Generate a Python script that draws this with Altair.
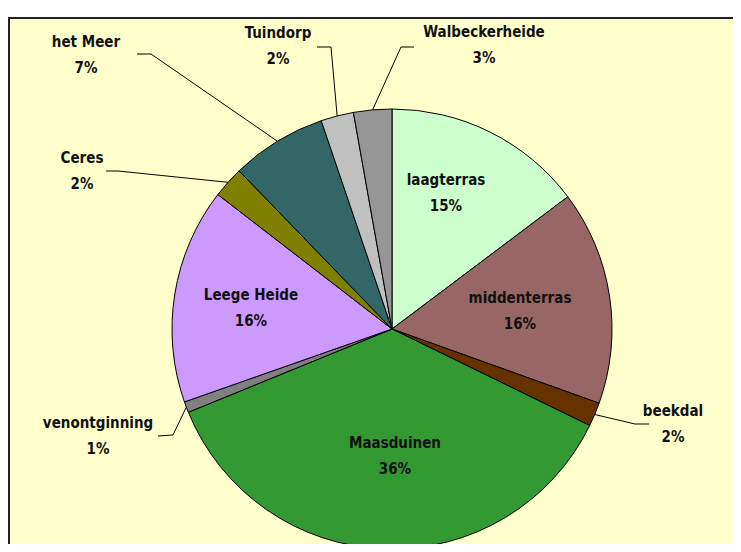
import math
import altair as alt
import pandas as pd

# ---- data ----
categories = ["laagterras", "middenterras", "beekdal", "Maasduinen", "venontginning",
              "Leege Heide", "Ceres", "het Meer", "Tuindorp", "Walbeckerheide"]
shares = [14.7, 15.7, 1.75, 36.5, 0.8, 15.8, 2.3, 7.0, 2.4, 2.8]
pct_labels = ["15%", "16%", "2%", "36%", "1%", "16%", "2%", "7%", "2%", "3%"]
colors = ["#CCFFCC", "#996666", "#663300", "#339933", "#808080",
          "#CC99FF", "#808000", "#336666", "#C0C0C0", "#969696"]

# ---- layout (pixels, chart coordinates) ----
W, H = 725, 536
CX, CY, R = 384, 321, 220
LINE_GAP = 26
# label anchor offsets relative to the pie centre (manual placement as in the original)
label_dx = [54, 128, 281, 3, -294, -141, -310, -306, -114, 92]
label_dy = [-149, -31, 82, 114, 94, -34, -171, -287, -296, -297]
# leader lines: (category, elbow dx, elbow dy, end dx, end dy)
leaders = [
    ("beekdal", 243, 95, 257, 95),
    ("venontginning", -219, 106, -234, 107),
    ("Ceres", -274, -158, -286, -158),
    ("het Meer", -241, -275, -255, -275),
    ("Tuindorp", -61, -282, -75, -282),
    ("Walbeckerheide", 9, -282, 22, -282),
]

df = pd.DataFrame({"cat": categories, "value": shares, "order": range(len(categories)),
                   "pct": pct_labels})

total = sum(shares)
cum = 0.0
mid = {}
for c, v in zip(categories, shares):
    mid[c] = (cum + v / 2) / total * 2 * math.pi
    cum += v

rows = []
for c, ex, ey, tx, ty in leaders:
    a = mid[c]
    rows.append({"cat": c, "seq": 0, "x": CX + R * math.sin(a), "y": CY - R * math.cos(a)})
    rows.append({"cat": c, "seq": 1, "x": CX + ex, "y": CY + ey})
    rows.append({"cat": c, "seq": 2, "x": CX + tx, "y": CY + ty})
lead_df = pd.DataFrame(rows)

lab_df = pd.DataFrame({
    "cat": categories, "pct": pct_labels,
    "x": [CX + d for d in label_dx],
    "y1": [CY + d for d in label_dy],
    "y2": [CY + d + LINE_GAP for d in label_dy],
})

frame = alt.Chart(pd.DataFrame({"a": [0]})).mark_rect(
    fill="#FFFFCC", stroke="#222222", strokeWidth=2
).encode(x=alt.value(1), x2=alt.value(900), y=alt.value(10), y2=alt.value(900))

pie = alt.Chart(df).mark_arc(outerRadius=R, stroke="black", strokeWidth=1).encode(
    theta=alt.Theta("value:Q", stack=True),
    order=alt.Order("order:Q", sort="ascending"),
    color=alt.Color("cat:N", scale=alt.Scale(domain=categories, range=colors), legend=None),
    x=alt.value(CX), y=alt.value(CY),
)

lines = alt.Chart(lead_df).mark_line(color="black", strokeWidth=1).encode(
    x=alt.X("x:Q", scale=None), y=alt.Y("y:Q", scale=None),
    detail="cat:N", order="seq:Q",
)

font = "DejaVu Sans Condensed, DejaVu Sans"
txt1 = alt.Chart(lab_df).mark_text(font=font, fontWeight="bold", fontSize=15,
                                   color="#111111", align="center", baseline="middle").encode(
    x=alt.X("x:Q", scale=None), y=alt.Y("y1:Q", scale=None), text="cat:N")
txt2 = alt.Chart(lab_df).mark_text(font=font, fontWeight="bold", fontSize=15,
                                   color="#111111", align="center", baseline="middle").encode(
    x=alt.X("x:Q", scale=None), y=alt.Y("y2:Q", scale=None), text="pct:N")

chart = alt.layer(frame, pie, lines, txt1, txt2).properties(
    width=W, height=H, autosize=alt.AutoSizeParams(type="none"), padding=0,
    background="white"
).configure_view(stroke=None)

chart.save("out.html", embed_options={"renderer": "svg", "actions": False})
